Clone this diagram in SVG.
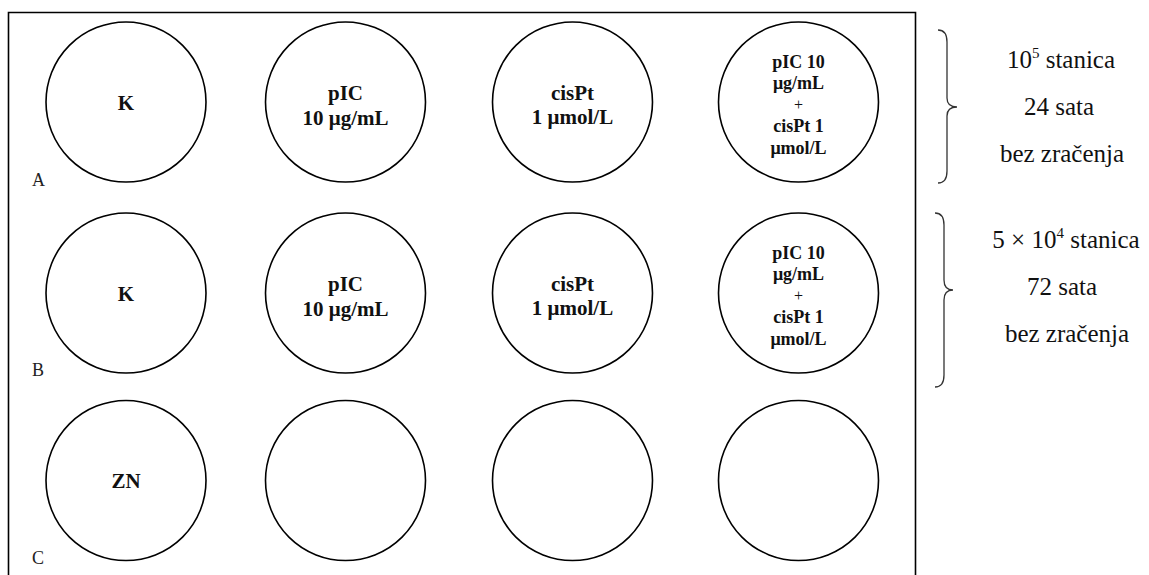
<svg xmlns="http://www.w3.org/2000/svg" width="1149" height="575" viewBox="0 0 1149 575">
<style>
.well{fill:#fff;stroke:#000;stroke-width:1.6}
.lbl{font-family:"Liberation Serif","Times New Roman",serif;font-weight:bold;font-size:21px;text-anchor:middle;fill:#111}
.sm{font-size:18px}
.pl{font-size:16px;font-weight:normal}
.row{font-family:"Liberation Serif","Times New Roman",serif;font-size:18px;fill:#222}
.side{font-family:"Liberation Serif","Times New Roman",serif;font-size:25px;text-anchor:middle;fill:#111}
.brace{fill:none;stroke:#333;stroke-width:1.3}
</style>
<rect width="1149" height="575" fill="#fff"/>
<path d="M8.5,580 V12.5 H915.5 V580" fill="none" stroke="#000" stroke-width="1.6"/>
<g id="rowA">
<g id="A1"><circle class="well" cx="126" cy="102" r="80"/><text class="lbl" x="126" y="110">K</text></g>
<g id="A2"><circle class="well" cx="345.5" cy="102" r="80"/><text class="lbl" x="345.5" y="100">pIC</text><text class="lbl" x="345.5" y="125">10 μg/mL</text></g>
<g id="A3"><circle class="well" cx="572.5" cy="102" r="80"/><text class="lbl" x="572.5" y="100">cisPt</text><text class="lbl" x="572.5" y="124">1 μmol/L</text></g>
<g id="A4"><circle class="well" cx="798.5" cy="102" r="80"/><text class="lbl sm" x="798.5" y="68">pIC 10</text><text class="lbl sm" x="798.5" y="89">μg/mL</text><text class="lbl pl" x="798.5" y="110">+</text><text class="lbl sm" x="798.5" y="132">cisPt 1</text><text class="lbl sm" x="798.5" y="154">μmol/L</text></g>
<text class="row" x="32" y="186">A</text>
</g>
<g id="rowB">
<g id="B1"><circle class="well" cx="126" cy="293" r="80"/><text class="lbl" x="126" y="301">K</text></g>
<g id="B2"><circle class="well" cx="345.5" cy="293" r="80"/><text class="lbl" x="345.5" y="291">pIC</text><text class="lbl" x="345.5" y="316">10 μg/mL</text></g>
<g id="B3"><circle class="well" cx="572.5" cy="293" r="80"/><text class="lbl" x="572.5" y="291">cisPt</text><text class="lbl" x="572.5" y="315">1 μmol/L</text></g>
<g id="B4"><circle class="well" cx="798.5" cy="293" r="80"/><text class="lbl sm" x="798.5" y="259">pIC 10</text><text class="lbl sm" x="798.5" y="280">μg/mL</text><text class="lbl pl" x="798.5" y="301">+</text><text class="lbl sm" x="798.5" y="323">cisPt 1</text><text class="lbl sm" x="798.5" y="345">μmol/L</text></g>
<text class="row" x="32" y="376">B</text>
</g>
<g id="rowC">
<g id="C1"><circle class="well" cx="126" cy="480.5" r="80"/><text class="lbl" x="126" y="488">ZN</text></g>
<g id="C2"><circle class="well" cx="345.5" cy="480.5" r="80"/></g>
<g id="C3"><circle class="well" cx="572.5" cy="480.5" r="80"/></g>
<g id="C4"><circle class="well" cx="798.5" cy="480.5" r="80"/></g>
<text class="row" x="32" y="564">C</text>
</g>
<g id="connectors">
<path class="brace" d="M938,30 Q947,30 947,42 V98 Q947,107 957,107 Q947,107 947,116 V171 Q947,183 938,183"/>
<path class="brace" d="M935,213 Q944,213 944,225 V280 Q944,290 953,290 Q944,290 944,300 V375 Q944,387 935,387"/>
</g>
<g id="noteA">
<text class="side" x="1061" y="68">10<tspan font-size="15" dy="-10">5</tspan><tspan dy="10"> stanica</tspan></text>
<text class="side" x="1059" y="115">24 sata</text>
<text class="side" x="1062" y="162">bez zračenja</text>
</g>
<g id="noteB">
<text class="side" x="1066" y="248">5 × 10<tspan font-size="15" dy="-10">4</tspan><tspan dy="10"> stanica</tspan></text>
<text class="side" x="1062" y="295">72 sata</text>
<text class="side" x="1067" y="342">bez zračenja</text>
</g>
</svg>
